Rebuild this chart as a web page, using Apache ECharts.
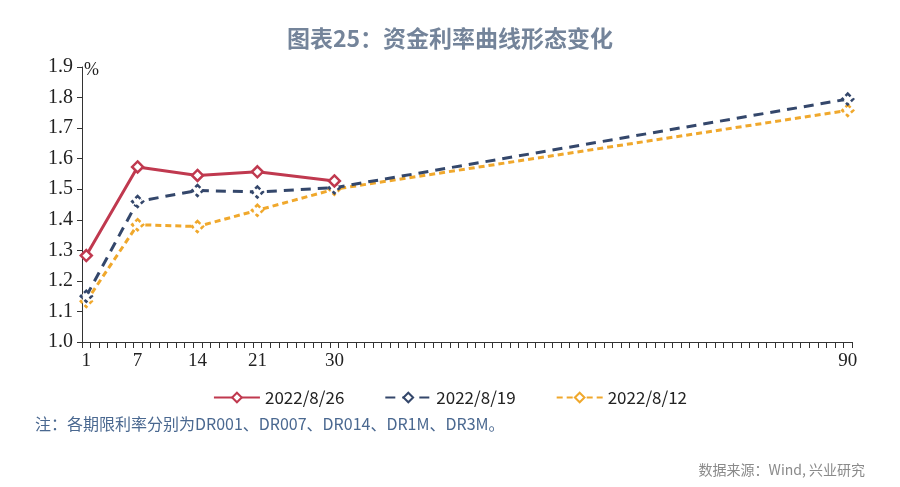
<!DOCTYPE html>
<html><head><meta charset="utf-8">
<script src="https://cdn.jsdelivr.net/npm/echarts@6/dist/echarts.min.js"></script>
<style>html,body{margin:0;padding:0;background:#fff}#c{width:900px;height:487px}</style>
</head><body><div id="c"></div>
<script>
// tenors (days)
const tenors = ['1','7','14','21','30','90'];
const shownLabels = ['1','7','14','21','30','90'];
const s0826 = [1.283, 1.573, 1.545, 1.557, 1.527];
const s0819 = [1.150, 1.460, 1.496, 1.491, 1.505, 1.795];
const s0812 = [1.133, 1.384, 1.378, 1.431, 1.500, 1.758];
const names = ['2022/8/26', '2022/8/19', '2022/8/12'];
const yTicks = [1.0, 1.9, 0.1];

const cats = [];
for (let i = 1; i <= 90; i++) cats.push(String(i));
const pairs = (arr) => arr.map((v, i) => [tenors[i], v]);

const chart = echarts.init(document.getElementById('c'));
const serif = '"Liberation Serif", "Times New Roman", serif';
const cjk = '"Noto Sans CJK SC", "Noto Sans", sans-serif';
chart.setOption({
  animation: false,
  title: [
    {text: '图表25：资金利率曲线形态变化', left: 'center', top: 22,
     textStyle: {fontFamily: cjk, fontSize: 23, fontWeight: 'bold', color: '#74849A'}},
    {text: '注：各期限利率分别为DR001、DR007、DR014、DR1M、DR3M。', left: 30, top: 411,
     textStyle: {fontFamily: cjk, fontSize: 16, fontWeight: 'normal', color: '#4A6890'}},
    {text: '数据来源：Wind, 兴业研究', right: 30, top: 458,
     textStyle: {fontFamily: cjk, fontSize: 14, fontWeight: 'normal', color: '#8A8A8A'}}
  ],
  grid: {left: 82, right: 48, top: 67, bottom: 145, containLabel: false},
  legend: {
    top: 384, left: 'center', itemWidth: 46, itemHeight: 12, itemGap: 40,
    textStyle: {fontFamily: cjk, fontSize: 17, color: '#222'},
    data: names
  },
  xAxis: {
    type: 'category', data: cats, boundaryGap: true,
    axisLine: {lineStyle: {color: '#333', width: 1}},
    axisTick: {show: true, interval: 0, length: 6, inside: false, lineStyle: {color: '#333'}},
    axisLabel: {
      interval: (idx, val) => shownLabels.indexOf(val) >= 0,
      fontFamily: serif, fontSize: 19, color: '#222', margin: 10
    },
    splitLine: {show: false}
  },
  yAxis: {
    type: 'value', min: yTicks[0], max: yTicks[1], interval: yTicks[2],
    name: '%', nameLocation: 'end', nameGap: 4,
    nameTextStyle: {fontFamily: serif, fontSize: 18, color: '#222', align: 'left', padding: [0, 0, -16, 2]},
    axisLine: {show: true, lineStyle: {color: '#333', width: 1}},
    axisTick: {show: true, length: 5, lineStyle: {color: '#333'}},
    axisLabel: {formatter: v => v.toFixed(1), fontFamily: serif, fontSize: 20, color: '#222', margin: 9},
    splitLine: {show: false}
  },
  series: [
    {name: names[0], type: 'line', data: pairs(s0826), symbol: 'diamond', symbolSize: 11,
     lineStyle: {color: '#C0394F', width: 3},
     itemStyle: {color: '#fff', borderColor: '#C0394F', borderWidth: 2.5}, z: 4},
    {name: names[1], type: 'line', data: pairs(s0819), symbol: 'diamond', symbolSize: 11,
     lineStyle: {color: '#34476B', width: 3, type: [10, 7]},
     itemStyle: {color: '#fff', borderColor: '#34476B', borderWidth: 2.5, borderType: [4, 3]}, z: 3},
    {name: names[2], type: 'line', data: pairs(s0812), symbol: 'diamond', symbolSize: 11,
     lineStyle: {color: '#F0A82C', width: 3, type: [6, 4]},
     itemStyle: {color: '#fff', borderColor: '#F0A82C', borderWidth: 2.5, borderType: [4, 3]}, z: 2}
  ]
});
</script></body></html>
